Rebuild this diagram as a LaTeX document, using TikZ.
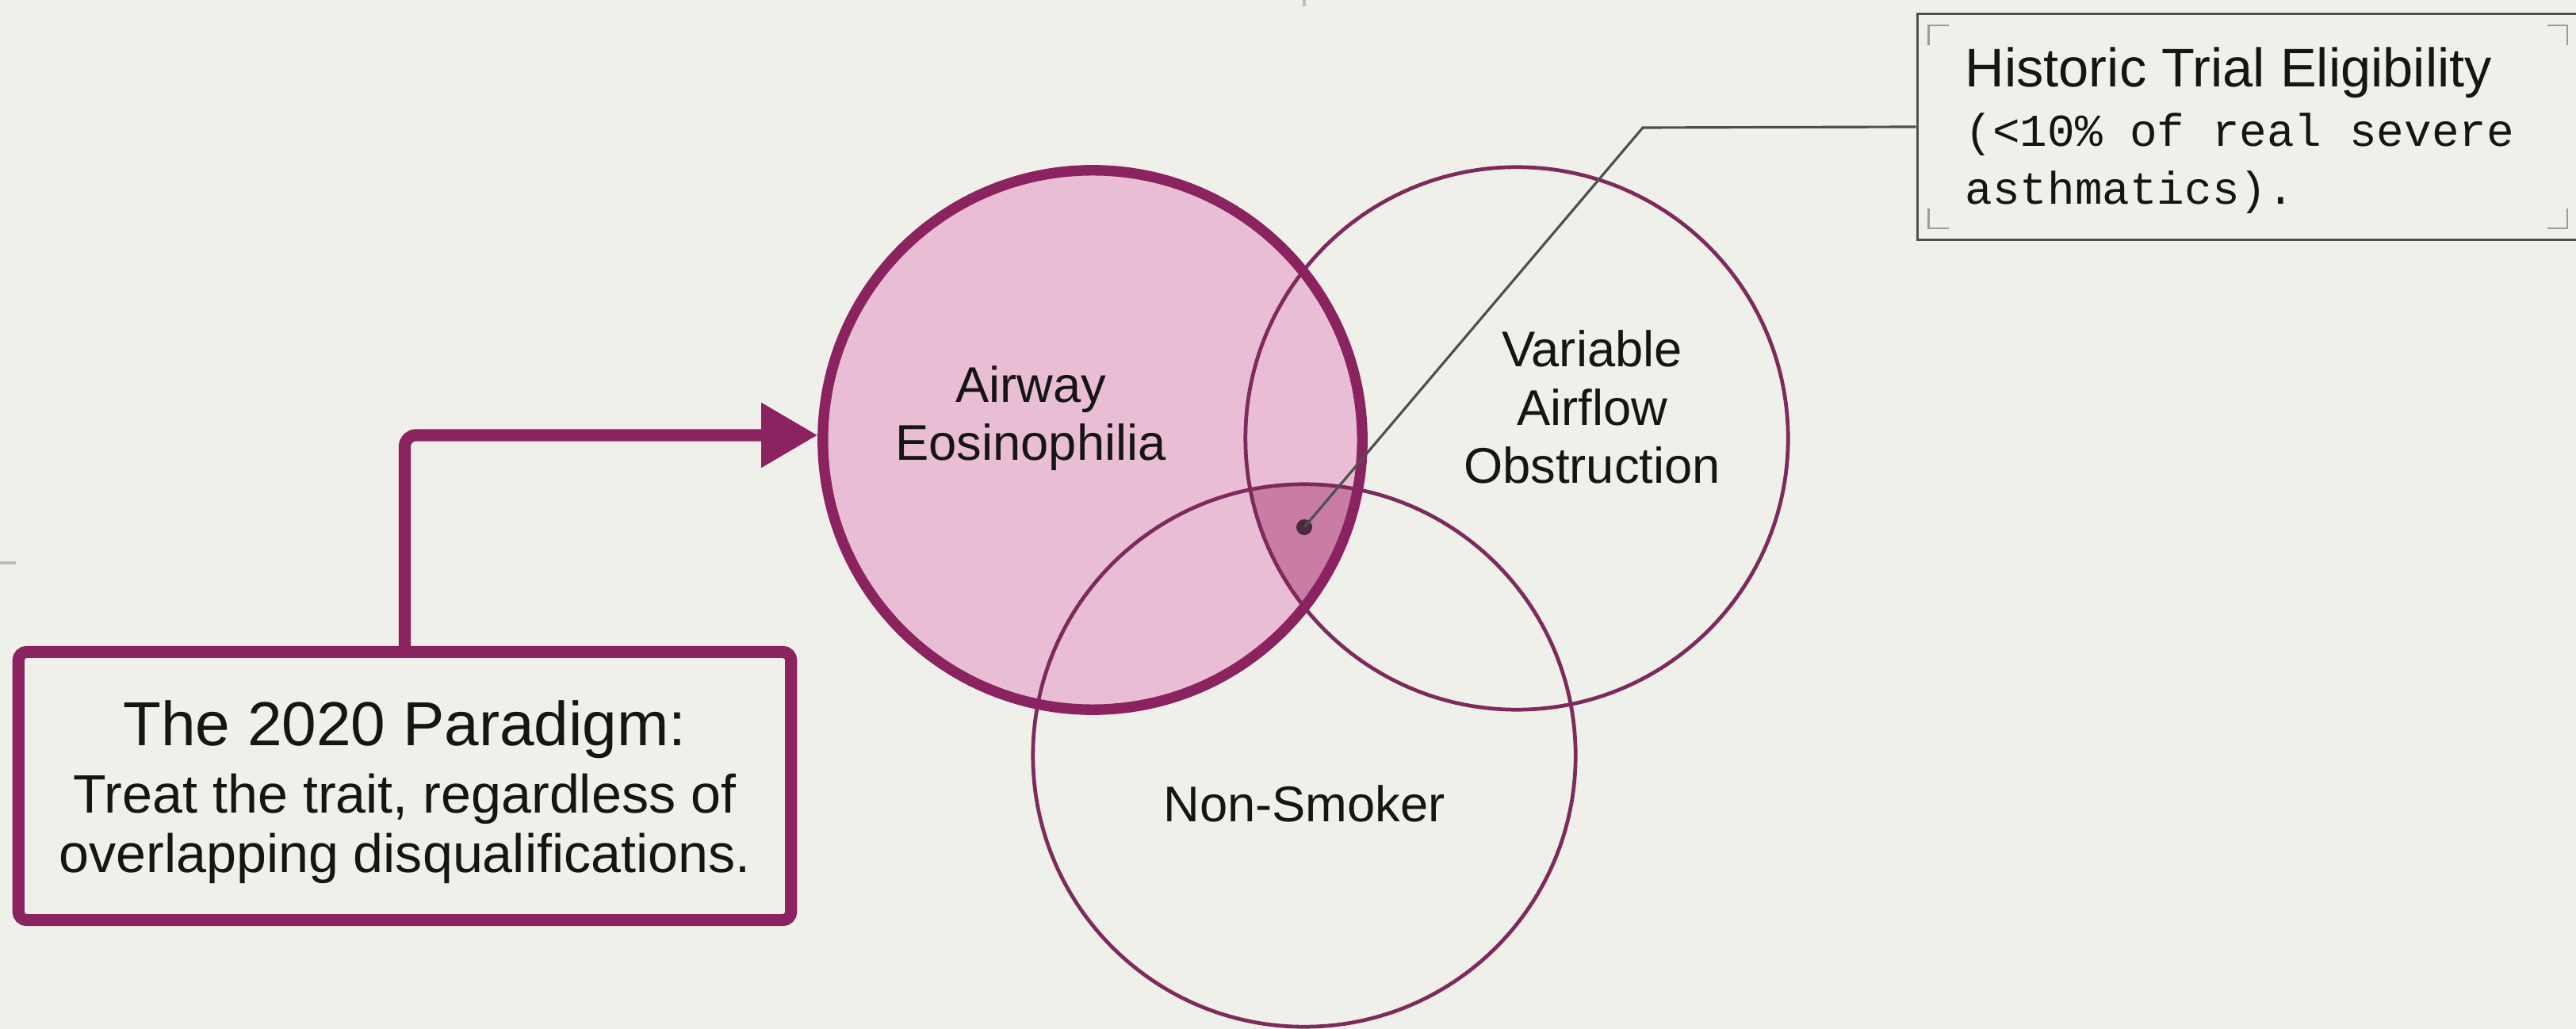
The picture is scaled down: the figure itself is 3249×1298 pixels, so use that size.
\documentclass[tikz,border=0pt]{standalone}
\usepackage{fontspec}
\setmainfont{Liberation Sans}
\newfontfamily\calloutmono{Liberation Mono}
\usetikzlibrary{arrows.meta}
\definecolor{bg}{HTML}{F0F0EB}
\definecolor{plum}{HTML}{8B2361}
\definecolor{plumthin}{HTML}{7E2A5C}
\definecolor{pinkfill}{HTML}{E9BED4}
\definecolor{pinkdeep}{HTML}{C97CA4}
\definecolor{ink}{HTML}{151515}
\definecolor{leader}{HTML}{4F4F4F}
\definecolor{bracket}{HTML}{9A9A9A}
\definecolor{dotc}{HTML}{4A2A3C}
\definecolor{tickc}{HTML}{BDBDBD}
\begin{document}
\begin{tikzpicture}[x=0.01cm,y=-0.01cm,
  bigset/.style={circle, draw=plum, line width=3.8pt, minimum size=6.8cm, inner sep=0pt},
  thinset/.style={circle, draw=plumthin, line width=1.35pt, minimum size=6.84cm, inner sep=0pt},
  setlabel/.style={font=\fontsize{18pt}{21pt}\selectfont, align=center, text=ink, anchor=base, inner sep=0pt},
  paradigm/.style={draw=plum, line width=4.3pt, rounded corners=3pt, minimum width=9.74cm, minimum height=3.38cm, inner sep=0pt},
  ptitle/.style={font=\fontsize{22.3pt}{25pt}\selectfont, text=ink, anchor=base, inner sep=0pt},
  pbody/.style={font=\fontsize{19.4pt}{21.3pt}\selectfont, align=center, text=ink, anchor=base, inner sep=0pt},
  callout/.style={draw=leader, line width=1pt, minimum width=8.365cm, minimum height=2.845cm, inner sep=0pt},
  calltitle/.style={font=\fontsize{19.5pt}{21.3pt}\selectfont, text=ink, anchor=base west, inner sep=0pt},
  callmono/.style={font=\calloutmono\fontsize{16.4pt}{20.8pt}\selectfont, align=left, text=ink, anchor=base west, inner sep=0pt},
  conn/.style={draw=plum, line width=4.3pt, rounded corners=4pt, -{Triangle[length=0.71cm,width=0.78cm]}},
  leaderline/.style={draw=leader, line width=0.9pt},
  brk/.style={draw=bracket, line width=0.75pt},
  tickmark/.style={draw=tickc, line width=1.2pt}
]
\fill[bg] (0,0) rectangle (3249,1298);
\useasboundingbox (0,0) rectangle (3249,1298);
\clip (0,0) rectangle (3249,1298);

% faint slide marks
\draw[tickmark] (1645,0) -- (1645,8);
\draw[tickmark] (0,710) -- (20,710);

% set centres
\coordinate (cA) at (1378,555);
\coordinate (cB) at (1913,553);
\coordinate (cC) at (1645,953);

% fills
\fill[pinkfill] (cA) circle[radius=340];
\begin{scope}
  \clip (cA) circle[radius=340];
  \clip (cB) circle[radius=342];
  \fill[pinkdeep] (cC) circle[radius=342];
\end{scope}

% outlines
\node[thinset] (B) at (cB) {};
\node[thinset] (C) at (cC) {};
\node[bigset] (A) at (cA) {};

% labels (base anchor = baseline of the last line)
\node[setlabel] (Alab) at (1300,581) {Airway\\Eosinophilia};
\node[setlabel] (Blab) at (2008,610) {Variable\\Airflow\\Obstruction};
\node[setlabel] (Clab) at (1645,1036) {Non-Smoker};

% intersection dot
\node[circle, fill=dotc, minimum size=0.2cm, inner sep=0pt] (D) at (1645,665) {};

% paradigm box
\node[paradigm] (P) at (510.5,991.5) {};
\node[ptitle] (Pt) at (510.5,940) {The 2020 Paradigm:};
\node[pbody] (Pb) at (510.5,1100) {Treat the trait, regardless of\\overlapping disqualifications.};

\draw[conn] (P.north) |- (A.179);

% callout
\node[callout] (H) at (2836.75,160) {};
\node[calltitle] (Ht) at (2478,110) {Historic Trial Eligibility};
\node[callmono] (Hm) at (2478,258) {(<10\% of real severe\\asthmatics).};

\coordinate (bend) at (2072,161);
\draw[leaderline] (D.center) -- (bend) -- (H.west);

% corner brackets
\draw[brk] ([shift={(16,41)}]H.north west) -- ++(0,-25) -- ++(25,0);
\draw[brk] ([shift={(-44,16)}]H.north east) -- ++(25,0) -- ++(0,25);
\draw[brk] ([shift={(16,-41)}]H.south west) -- ++(0,25) -- ++(25,0);
\draw[brk] ([shift={(-19,-41)}]H.south east) -- ++(0,25) -- ++(-25,0);
\end{tikzpicture}
\end{document}
